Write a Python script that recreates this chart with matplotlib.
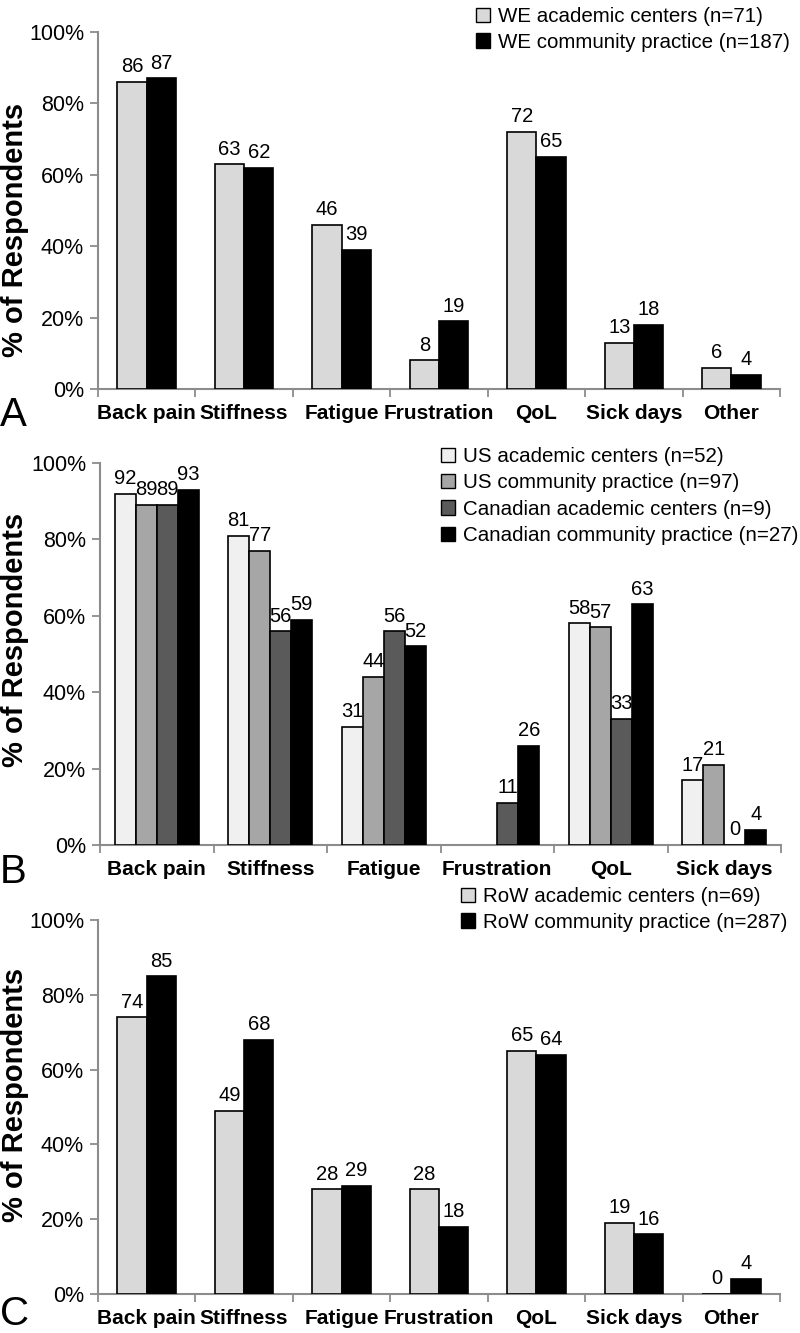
import numpy as np
import matplotlib
matplotlib.use("Agg")
import matplotlib.pyplot as plt
from matplotlib.patches import Patch

plt.rcParams['font.family'] = ['Liberation Sans', 'DejaVu Sans']

# ---------------- data ----------------
cats_a = ["Back pain", "Stiffness", "Fatigue", "Frustration", "QoL", "Sick days", "Other"]
we_academic = [86, 63, 46, 8, 72, 13, 6]
we_community = [87, 62, 39, 19, 65, 18, 4]
labels_a = ["WE academic centers (n=71)", "WE community practice (n=187)"]

cats_b = ["Back pain", "Stiffness", "Fatigue", "Frustration", "QoL", "Sick days"]
us_academic = [92, 81, 31, np.nan, 58, 17]
us_community = [89, 77, 44, np.nan, 57, 21]
can_academic = [89, 56, 56, 11, 33, 0]
can_community = [93, 59, 52, 26, 63, 4]
labels_b = ["US academic centers (n=52)", "US community practice (n=97)",
            "Canadian academic centers (n=9)", "Canadian community practice (n=27)"]

cats_c = ["Back pain", "Stiffness", "Fatigue", "Frustration", "QoL", "Sick days", "Other"]
row_academic = [74, 49, 28, 28, 65, 19, 0]
row_community = [85, 68, 29, 18, 64, 16, 4]
labels_c = ["RoW academic centers (n=69)", "RoW community practice (n=287)"]

yticks = [0, 20, 40, 60, 80, 100]
ytick_labels = ["0%", "20%", "40%", "60%", "80%", "100%"]

FS_XT = 15
FS_YT = 15.5
FS_VAL = 14.5
FS_LEG = 14.8
GRAY = "#8c8c8c"

W, H = 800, 1333
fig = plt.figure(figsize=(W / 100, H / 100), dpi=100)


def px_axes(left, top, right, bottom):
    return fig.add_axes([left / W, 1 - bottom / H, (right - left) / W, (bottom - top) / H])


def draw_panel(ax, cats, series, colors, width):
    n = len(cats)
    k = len(series)
    x = np.arange(n)
    for i, (vals, col) in enumerate(zip(series, colors)):
        offs = (i - (k - 1) / 2) * width
        vals = np.array(vals, dtype=float)
        mask = ~np.isnan(vals)
        bars = ax.bar(x[mask] + offs, vals[mask], width=width, color=col,
                      edgecolor="black", linewidth=1.2, zorder=3)
        for b, v in zip(bars, vals[mask]):
            ax.annotate(f"{int(v)}", (b.get_x() + b.get_width() / 2, v),
                        xytext=(0, 4), textcoords="offset points",
                        ha="center", va="bottom", fontsize=FS_VAL)
    ax.set_xlim(-0.5, n - 0.5)
    ax.set_ylim(0, 100)
    ax.set_yticks(yticks)
    ax.set_yticklabels(ytick_labels, fontsize=FS_YT)
    ax.set_xticks(x)
    ax.set_xticklabels(cats, fontsize=FS_XT, fontweight="bold")
    ax.set_xticks(np.arange(n + 1) - 0.5, minor=True)
    ax.tick_params(axis="x", which="major", length=0, pad=11)
    ax.tick_params(axis="x", which="minor", length=6, color=GRAY, width=1.3, direction="out")
    ax.tick_params(axis="y", length=6, color=GRAY, width=1.3, pad=4)
    for s in ["top", "right"]:
        ax.spines[s].set_visible(False)
    for s in ["left", "bottom"]:
        ax.spines[s].set_color(GRAY)
        ax.spines[s].set_linewidth(1.5)


def add_legend(labels, colors, x_px, y_px, spacing):
    handles = [Patch(facecolor=c, edgecolor="black", linewidth=1.0) for c in colors]
    fig.legend(handles, labels, loc="upper left",
               bbox_to_anchor=(x_px / W, 1 - y_px / H),
               frameon=False, fontsize=FS_LEG, handlelength=0.7, handleheight=0.7,
               handletextpad=0.35, labelspacing=spacing, borderpad=0, borderaxespad=0)


# Panel A
axA = px_axes(98, 32, 780, 389)
colA = ["#d9d9d9", "#000000"]
draw_panel(axA, cats_a, [we_academic, we_community], colA, 0.3)
add_legend(labels_a, colA, 476, 7, 0.32)

# Panel B
axB = px_axes(100, 463, 781, 845)
colB = ["#f0f0f0", "#a6a6a6", "#5a5a5a", "#000000"]
draw_panel(axB, cats_b, [us_academic, us_community, can_academic, can_community], colB, 0.185)
add_legend(labels_b, colB, 441, 447, 0.36)

# Panel C
axC = px_axes(98, 920, 780, 1294)
colC = ["#d9d9d9", "#000000"]
draw_panel(axC, cats_c, [row_academic, row_community], colC, 0.3)
add_legend(labels_c, colC, 461, 887, 0.32)

# y labels
for yc in [230, 640, 1095]:
    fig.text(1 / W, 1 - yc / H, "% of Respondents", rotation=90, ha="left", va="center",
             fontsize=21, fontweight="bold")

# panel letters
for letter, yc in [("A", 415), ("B", 872), ("C", 1314)]:
    fig.text(0 / W, 1 - yc / H, letter, ha="left", va="center", fontsize=29)

fig.savefig("out.png", dpi=100)
